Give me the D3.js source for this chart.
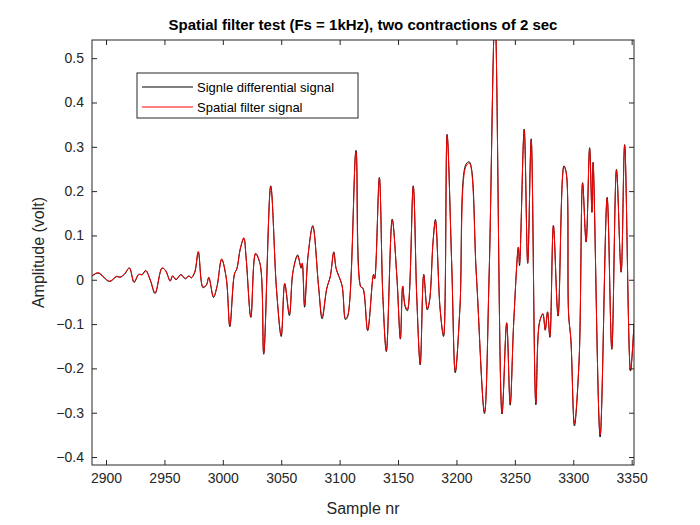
<!DOCTYPE html>
<html><head><meta charset="utf-8">
<script src="https://cdn.jsdelivr.net/npm/d3@7"></script>
<style>body{margin:0;background:#fff}svg{font-family:"Liberation Sans",Arial,sans-serif}</style>
</head><body><svg id="c" width="700" height="525"></svg>
<script>
const samples=[2886,2893,2903,2909,2912,2916,2920,2924,2928,2931,2934,2938,2942,2948,2951,2955,2957,2960,2964,2968,2971,2973,2976,2979,2983,2986,2988,2992,2995,2999,3003,3006,3010,3012,3015,3018,3020,3024,3028,3032,3035,3041,3046,3050,3053,3057,3060,3064,3067,3068,3070,3073,3077,3082,3085,3089,3092,3095,3097,3102,3105,3107,3114,3118,3120,3124,3129,3130,3134,3137,3140,3145,3149,3152,3154,3156,3158,3163,3166,3169,3172,3175,3177,3180,3182,3186,3189,3192,3196,3199,3203,3208,3211,3217,3224,3228,3233,3239,3243,3246,3249,3253,3254,3258,3261,3264,3268,3271,3274,3276,3278,3280,3283,3287,3292,3294,3296,3298,3301,3305,3308,3311,3314,3316,3317,3323,3329,3333,3337,3341,3344,3349,3352];
const spatial=[0.003,0.016,-0.003,0.008,0.005,0.014,0.026,-0.004,0.012,0.011,0.02,-0.001,-0.029,0.027,0.02,-0.002,0.008,0.001,0.011,0.003,0.008,0.005,0.018,0.064,-0.016,-0.012,0.006,-0.038,-0.016,0.047,0.003,-0.104,0.014,0.024,0.071,0.095,0.048,-0.083,0.06,0.035,-0.166,0.21,-0.023,-0.125,-0.008,-0.076,0.018,0.053,0.029,0.038,-0.057,0.056,0.12,-0.016,-0.083,-0.019,0.007,0.061,0.026,-0.012,-0.087,-0.08,0.289,-0.016,-0.019,-0.113,0.011,0.003,0.229,-0.038,-0.16,0.135,0.007,-0.132,-0.014,-0.057,-0.067,0.21,-0.038,-0.189,0.011,-0.065,-0.046,0.086,0.133,-0.065,-0.125,0.326,0.03,-0.207,-0.061,0.255,0.263,0.014,-0.298,0.014,0.6,-0.301,-0.098,-0.279,-0.098,0.074,0.037,0.338,0.038,0.315,-0.279,-0.098,-0.076,-0.113,-0.072,-0.128,0.123,-0.08,0.255,0.24,-0.076,-0.136,-0.324,-0.181,0.217,0.086,0.296,0.153,0.263,-0.35,0.184,-0.155,0.247,0.018,0.304,-0.204,-0.098];
const single=[0.004,0.015,-0.004,0.007,0.006,0.013,0.027,-0.006,0.012,0.012,0.021,-0.002,-0.031,0.026,0.021,-0.003,0.009,0.0,0.012,0.002,0.009,0.004,0.017,0.062,-0.018,-0.011,0.005,-0.040,-0.015,0.046,0.002,-0.106,0.013,0.025,0.070,0.093,0.047,-0.085,0.058,0.034,-0.168,0.212,-0.024,-0.128,-0.009,-0.081,0.017,0.056,0.026,0.036,-0.062,0.055,0.122,-0.017,-0.088,-0.020,0.008,0.063,0.025,-0.013,-0.09,-0.082,0.292,-0.015,-0.02,-0.115,0.012,0.002,0.231,-0.037,-0.162,0.137,0.006,-0.134,-0.015,-0.06,-0.07,0.212,-0.037,-0.192,0.012,-0.068,-0.047,0.087,0.136,-0.066,-0.128,0.328,0.029,-0.21,-0.063,0.26,0.266,0.013,-0.302,0.013,0.6,-0.303,-0.097,-0.283,-0.097,0.073,0.032,0.34,0.037,0.318,-0.282,-0.097,-0.078,-0.114,-0.073,-0.13,0.122,-0.082,0.257,0.242,-0.077,-0.137,-0.33,-0.182,0.219,0.085,0.298,0.152,0.265,-0.355,0.186,-0.157,0.249,0.017,0.305,-0.206,-0.1];
const xTicks=[2900,2950,3000,3050,3100,3150,3200,3250,3300,3350];
const yTicks=[-0.4,-0.3,-0.2,-0.1,0,0.1,0.2,0.3,0.4,0.5];
const legendLabels=["Signle differential signal","Spatial filter signal"];

const svg=d3.select("#c");
const L=92,R=634,T=40,B=465;
const x=d3.scaleLinear().domain([2888,3352]).range([L,R]);
const y=d3.scaleLinear().domain([-0.418,0.541]).range([B,T]);
svg.append("defs").append("clipPath").attr("id","cp").append("rect").attr("x",L).attr("y",T).attr("width",R-L).attr("height",B-T);
const line=d3.line().x((d,i)=>x(samples[i])).y(d=>y(d)).curve(d3.curveCatmullRom.alpha(0.5));
const g=svg.append("g").attr("clip-path","url(#cp)");
g.append("path").attr("d",line(single)).attr("fill","none").attr("stroke","#000").attr("stroke-width",1);
g.append("path").attr("d",line(spatial)).attr("fill","none").attr("stroke","#f00").attr("stroke-width",1);

svg.append("g").attr("transform",`translate(0,${B})`).call(d3.axisBottom(x).tickValues(xTicks).tickSizeInner(-5).tickSizeOuter(0).tickPadding(8).tickFormat(d3.format("d")))
 .call(s=>{s.select(".domain").remove();s.selectAll("text").attr("font-size",14).attr("fill","#262626");s.selectAll("line").attr("stroke","#262626");});
svg.append("g").attr("transform",`translate(0,${T})`).call(d3.axisTop(x).tickValues(xTicks).tickSizeInner(-5).tickSizeOuter(0).tickFormat(""))
 .call(s=>{s.select(".domain").remove();s.selectAll("line").attr("stroke","#262626");});
svg.append("g").attr("transform",`translate(${L},0)`).call(d3.axisLeft(y).tickValues(yTicks).tickSizeInner(-5).tickSizeOuter(0).tickPadding(8).tickFormat(d=>d===0?"0":d3.format(".1f")(d)))
 .call(s=>{s.select(".domain").remove();s.selectAll("text").attr("font-size",14).attr("fill","#262626");s.selectAll("line").attr("stroke","#262626");});
svg.append("g").attr("transform",`translate(${R},0)`).call(d3.axisRight(y).tickValues(yTicks).tickSizeInner(-5).tickSizeOuter(0).tickFormat(""))
 .call(s=>{s.select(".domain").remove();s.selectAll("line").attr("stroke","#262626");});
svg.append("rect").attr("x",L).attr("y",T).attr("width",R-L).attr("height",B-T).attr("fill","none").attr("stroke","#262626").attr("stroke-width",1);

svg.append("text").attr("x",(L+R)/2).attr("y",30).attr("text-anchor","middle").attr("font-size",15).attr("font-weight","bold").attr("fill","#000").text("Spatial filter test (Fs = 1kHz), two contractions of 2 sec");
svg.append("text").attr("x",(L+R)/2).attr("y",514).attr("text-anchor","middle").attr("font-size",16).attr("fill","#262626").text("Sample nr");
svg.append("text").attr("transform",`translate(44,${(T+B)/2}) rotate(-90)`).attr("text-anchor","middle").attr("font-size",16).attr("fill","#262626").text("Amplitude (volt)");

const lg=svg.append("g");
lg.append("rect").attr("x",137).attr("y",73).attr("width",221).attr("height",45).attr("fill","#fff").attr("stroke","#262626");
const cols=["#000","#f00"];
legendLabels.forEach((t,i)=>{
  const yy=87+i*20;
  lg.append("line").attr("x1",142).attr("x2",193).attr("y1",yy).attr("y2",yy).attr("stroke",cols[i]);
  lg.append("text").attr("x",197).attr("y",yy+5).attr("font-size",13).attr("fill","#000").text(t);
});
</script></body></html>
